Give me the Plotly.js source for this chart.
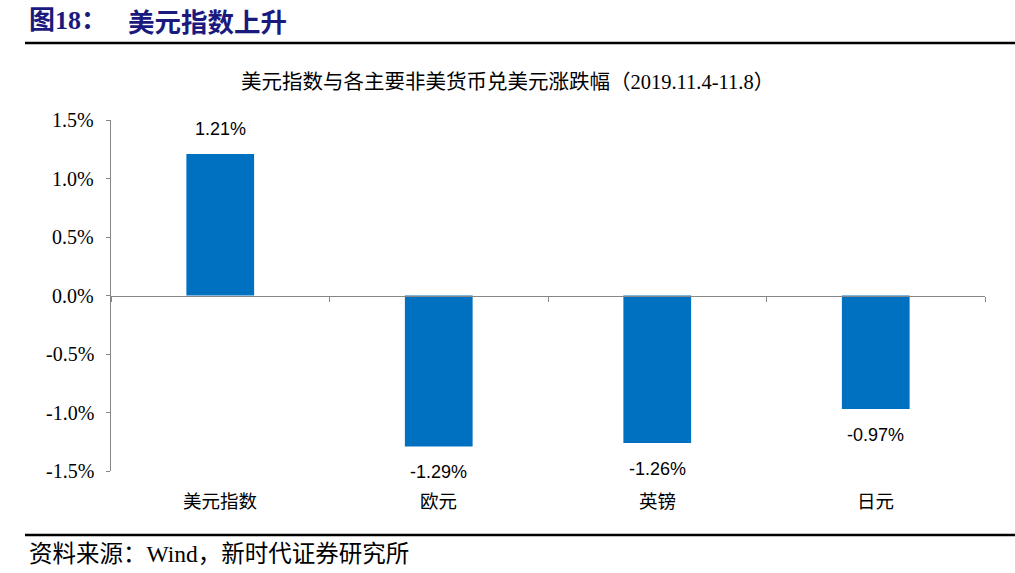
<!DOCTYPE html>
<html>
<head>
<meta charset="utf-8">
<script src="https://cdn.plot.ly/plotly-3.0.1.min.js"></script>
<style>
  html, body { margin: 0; padding: 0; background: #fff; }
  #chart { width: 1015px; height: 573px; }
</style>
</head>
<body>
<div id="chart"></div>
<script>
// 美元指数与各主要非美货币兑美元涨跌幅 (2019.11.4-11.8)
const categories = ["美元指数", "欧元", "英镑", "日元"];
const changes = [1.21, -1.29, -1.26, -0.97];
const yTicks = [-1.5, -1.0, -0.5, 0, 0.5, 1.0, 1.5];
const yTickText = ["-1.5%", "-1.0%", "-0.5%", "0.0%", "0.5%", "1.0%", "1.5%"];

// plot area in pixels
const L = 111, R = 985, T = 120, B = 471;
const px = x => (x - L) / (R - L);
const py = y => (B - y) / (B - T);

const navy = "#1A1A7E";
const serif = "Times New Roman, Liberation Serif, Noto Sans CJK SC, serif";

const labelNotes = categories.map((c, i) => ({
  x: c, y: changes[i], xref: "x", yref: "y",
  text: changes[i].toFixed(2) + "%",
  showarrow: false, yanchor: "middle",
  yshift: changes[i] >= 0 ? 25 : -26,
  font: { family: "Liberation Sans", size: 18, color: "#000" }
}));

const catNotes = categories.map(c => ({
  x: c, y: py(500), xref: "x", yref: "paper",
  text: c, showarrow: false, yanchor: "middle",
  font: { family: "Noto Sans CJK SC", size: 18.5, color: "#000" }
}));

// y tick labels in serif, placed on the y scale
const tickNotes = yTicks.map((v, i) => ({
  x: px(96), y: v, xref: "paper", yref: "y",
  text: yTickText[i], showarrow: false, xanchor: "right", yanchor: "middle",
  font: { family: serif, size: 20, color: "#000" }
}));

const otherNotes = [
  { x: px(27), y: py(21), xref: "paper", yref: "paper", xanchor: "left", yanchor: "middle",
    text: "<b>图18：</b>", showarrow: false,
    font: { family: serif, size: 26, color: navy } },
  { x: px(126), y: py(21), xref: "paper", yref: "paper", xanchor: "left", yanchor: "middle",
    text: "<b>美元指数上升</b>", showarrow: false,
    font: { family: "Noto Sans CJK SC", size: 26.5, color: navy } },
  { x: px(507), y: py(82), xref: "paper", yref: "paper", xanchor: "center", yanchor: "middle",
    text: "美元指数与各主要非美货币兑美元涨跌幅（2019.11.4-11.8）", showarrow: false,
    font: { family: serif, size: 20.5, color: "#000" } },
  { x: px(27), y: py(554), xref: "paper", yref: "paper", xanchor: "left", yanchor: "middle",
    text: "资料来源：Wind，新时代证券研究所", showarrow: false,
    font: { family: serif, size: 23.5, color: "#000" } }
];

const lines = [43, 535].map(y => ({
  type: "line", xref: "paper", yref: "paper",
  x0: px(25), x1: px(1015), y0: py(y), y1: py(y),
  line: { color: "#000", width: 2.5 }
}));

Plotly.newPlot("chart", [{
  type: "bar",
  x: categories,
  y: changes,
  width: 0.31,
  marker: { color: "#0070C0" },
  hoverinfo: "skip"
}], {
  width: 1015,
  height: 573,
  margin: { l: L, r: 1015 - R, t: T, b: 573 - B },
  font: { family: serif, color: "#000" },
  paper_bgcolor: "#fff",
  plot_bgcolor: "#fff",
  showlegend: false,
  xaxis: {
    type: "category",
    range: [-0.5, 3.5],
    anchor: "free",
    position: 0.5,
    showline: true,
    linecolor: "#868686",
    linewidth: 1,
    ticks: "outside",
    tickson: "boundaries",
    ticklen: 5,
    tickcolor: "#868686",
    showticklabels: false,
    showgrid: false,
    zeroline: false,
    fixedrange: true
  },
  yaxis: {
    range: [-1.5, 1.5],
    tickvals: yTicks,
    showline: true,
    linecolor: "#868686",
    linewidth: 1,
    ticks: "outside",
    ticklen: 4,
    tickcolor: "#868686",
    showticklabels: false,
    showgrid: false,
    zeroline: false,
    fixedrange: true
  },
  annotations: [...tickNotes, ...labelNotes, ...catNotes, ...otherNotes],
  shapes: lines
}, { displayModeBar: false, staticPlot: true });
</script>
</body>
</html>
